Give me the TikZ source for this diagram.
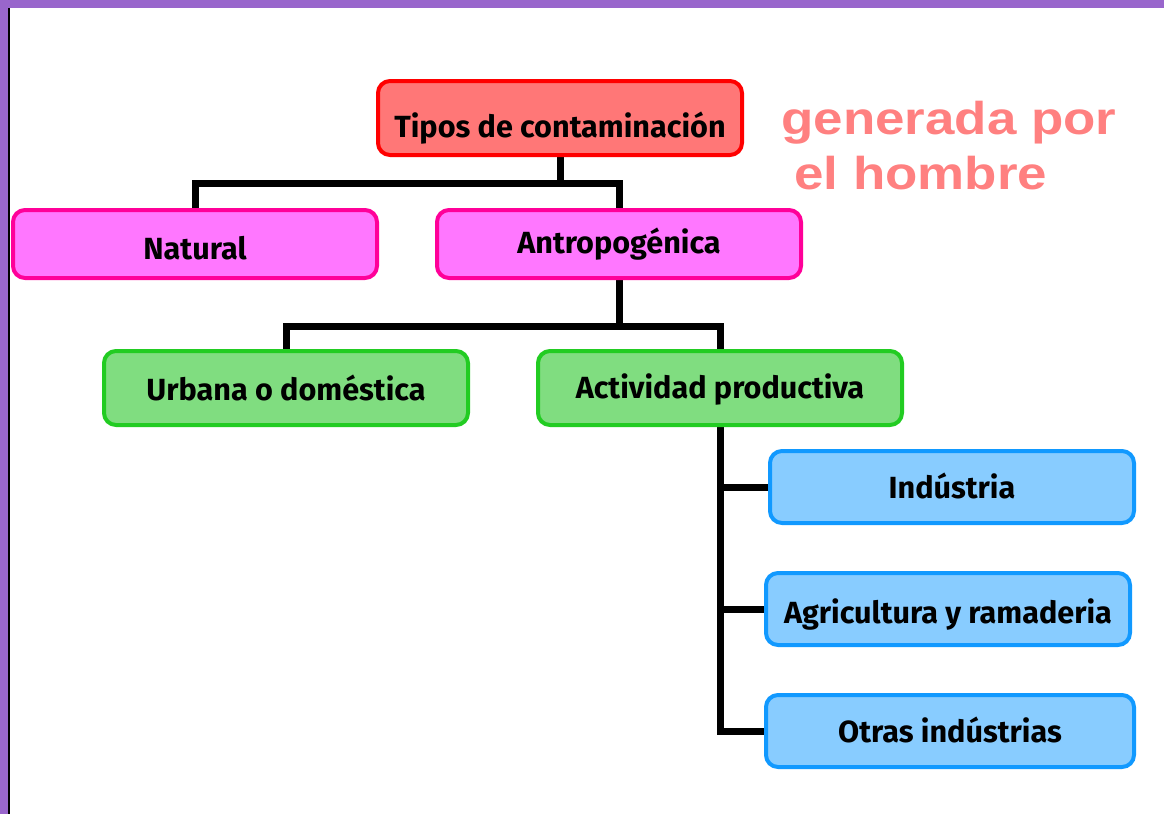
\documentclass[tikz,border=0pt]{standalone}
\usepackage{fontspec}
\setmainfont{Fira Sans}
\newfontfamily\notefont[FakeStretch=1.15]{Liberation Sans}
\usepackage{xcolor}
\usepackage{tikz}
\usetikzlibrary{positioning, calc, backgrounds}

\definecolor{framepurple}{HTML}{9966CC}
\definecolor{rootfill}{HTML}{FF7777}
\definecolor{rootline}{HTML}{FF0000}
\definecolor{pinkfill}{HTML}{FF77FF}
\definecolor{pinkline}{HTML}{FF0099}
\definecolor{greenfill}{HTML}{80DD80}
\definecolor{greenline}{HTML}{22CC22}
\definecolor{bluefill}{HTML}{88CCFF}
\definecolor{blueline}{HTML}{1199FF}
\definecolor{notecolor}{HTML}{FF8080}

\begin{document}
\begin{tikzpicture}[x=0.5pt, y=-0.5pt,
    box/.style={draw, line width=2pt, rounded corners=6pt, minimum width=182pt,
        inner sep=0pt, text depth=3.5pt, text height=14.5pt,
        font=\bfseries\fontsize{15.3}{17}\selectfont},
    lift/.style={text height=#1},
    rootbox/.style={box, fill=rootfill, draw=rootline, minimum height=37pt},
    pinkbox/.style={box, fill=pinkfill, draw=pinkline, minimum height=34pt},
    greenbox/.style={box, fill=greenfill, draw=greenline, minimum height=37pt},
    bluebox/.style={box, fill=bluefill, draw=blueline, minimum height=36pt},
    link/.style={line width=3.5pt, black}]
    \useasboundingbox (0,0) rectangle (1164,814);
    % level 1
    \node[rootbox, lift=22.5pt] (tipos) at (560,118) {Tipos de contaminación};
    % level 2
    \node[pinkbox, lift=19pt] (natural) at (195,244) {Natural};
    \node[pinkbox, lift=12.5pt] (antropo) at (619,244) {Antropogénica};
    % level 3
    \node[greenbox, lift=15.5pt] (urbana) at (286,388) {Urbana o doméstica};
    \node[greenbox, lift=13.5pt] (actividad) at (720,388) {Actividad productiva};
    % level 4
    \node[bluebox] (industria) at (952,487) {Indústria};
    \node[bluebox, lift=17.5pt] (agricultura) at (948,609) {Agricultura y ramaderia};
    \node[bluebox, minimum width=184pt] (otras) at (950,731) {Otras indústrias};
    % note
    \node[anchor=north west, inner sep=0pt, align=left, text=notecolor,
        font=\notefont\bfseries\fontsize{23}{27.5}\selectfont] (nota) at (781,101)
        {generada por\\\hspace*{6.5pt}el hombre};
    \begin{scope}[on background layer]
        % frame
        \fill[framepurple] (0,0) rectangle (1164,8);
        \fill[framepurple] (0,0) rectangle (8,814);
        \draw[line width=1pt] (9,8) -- (9,814);
        % connectors
        \draw[link] (tipos.south) -- ++(0,26) -| (natural.north);
        \draw[link] (tipos.south) -- ++(0,26) -| (antropo.north);
        \draw[link] (antropo.south) -- ++(0,46) -| (urbana.north);
        \draw[link] (antropo.south) -- ++(0,46) -| (actividad.north);
        \draw[link] (actividad.south) |- (industria.west);
        \draw[link] (actividad.south) |- (agricultura.west);
        \draw[link] (actividad.south) |- (otras.west);
    \end{scope}
\end{tikzpicture}
\end{document}
